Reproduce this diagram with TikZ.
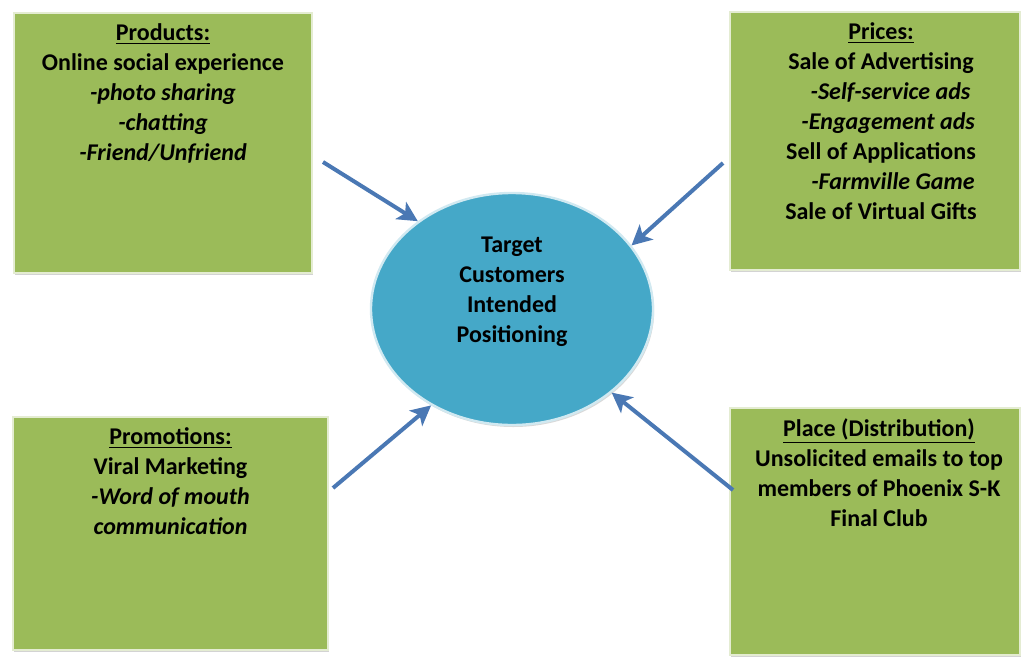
\documentclass[tikz,border=0pt]{standalone}
\usepackage{fontspec}
\setmainfont{Carlito}
\usetikzlibrary{arrows.meta,shapes.geometric,shadows}

\definecolor{boxgreen}{HTML}{9BBB59}
\definecolor{boxedge}{HTML}{E4ECD2}
\definecolor{hubblue}{HTML}{45A8C8}
\definecolor{arrowblue}{HTML}{4A78B4}

\begin{document}
\begin{tikzpicture}[x=0.5pt,y=-0.5pt,
  mixbox/.style={rectangle,fill=boxgreen,draw=boxedge,line width=0.8pt,
    drop shadow={shadow xshift=0.6pt,shadow yshift=-1.2pt,opacity=0.35}},
  mixtext/.style={anchor=north,align=center,inner sep=1pt,font=\bfseries\fontsize{12}{15}\selectfont},
  feed/.style={draw=arrowblue,line width=2pt,-{Stealth[length=10pt,width=10pt,inset=2.5pt]}}]
\useasboundingbox (0,0) rectangle (1027,659);

\node[mixbox,minimum width=149pt,minimum height=130pt] (prod) at (163,143) {};
\node[mixbox,minimum width=145pt,minimum height=129pt] (price) at (875,141) {};
\node[mixbox,minimum width=157.5pt,minimum height=116.5pt] (promo) at (170.5,533.5) {};
\node[mixbox,minimum width=145pt,minimum height=123.5pt] (place) at (875,531.5) {};

\node[ellipse,fill=hubblue,draw=white!75!hubblue,line width=1.2pt,
  minimum width=141pt,minimum height=116pt,
  drop shadow={shadow xshift=0.6pt,shadow yshift=-1pt,opacity=0.3}] (hub) at (512,309) {};

\node[mixtext] (prodtxt) at ([yshift=-4.5pt]prod.north) {\underline{Products:}\\
  Online social experience\\ \textit{-photo sharing}\\ \textit{-chatting}\\ \textit{-Friend/Unfriend}};
\node[mixtext] (pricetxt) at ([xshift=3pt,yshift=-4.5pt]price.north) {\underline{Prices:}\\
  Sale of Advertising\\ \hspace*{0.8em}\textit{-Self-service ads}\\ \hspace*{0.6em}\textit{-Engagement ads}\\
  Sell of Applications\\ \hspace*{1em}\textit{-Farmville Game}\\ Sale of Virtual Gifts};
\node[mixtext] (promotxt) at ([yshift=-4.5pt]promo.north) {\underline{Promotions:}\\
  Viral Marketing\\ \textit{-Word of mouth}\\ \textit{communication}};
\node[mixtext] (placetxt) at ([xshift=2pt,yshift=-4.5pt]place.north) {\underline{Place (Distribution)}\\
  Unsolicited emails to top\\ members of Phoenix S-K\\ Final Club};
\node[mixtext,anchor=center] (hubtxt) at (512,292) {Target\\ Customers\\ Intended\\ Positioning};

\coordinate (pa) at (323,162);
\coordinate (pb) at (723,163);
\coordinate (pc) at (333,488);
\coordinate (pd) at (733,490);

\draw[feed] (pa) -- (hub.137);
\draw[feed] (pb) -- (hub.28);
\draw[feed] (pc) -- (hub.230);
\draw[feed] (pd) -- (hub.320);
\end{tikzpicture}
\end{document}
